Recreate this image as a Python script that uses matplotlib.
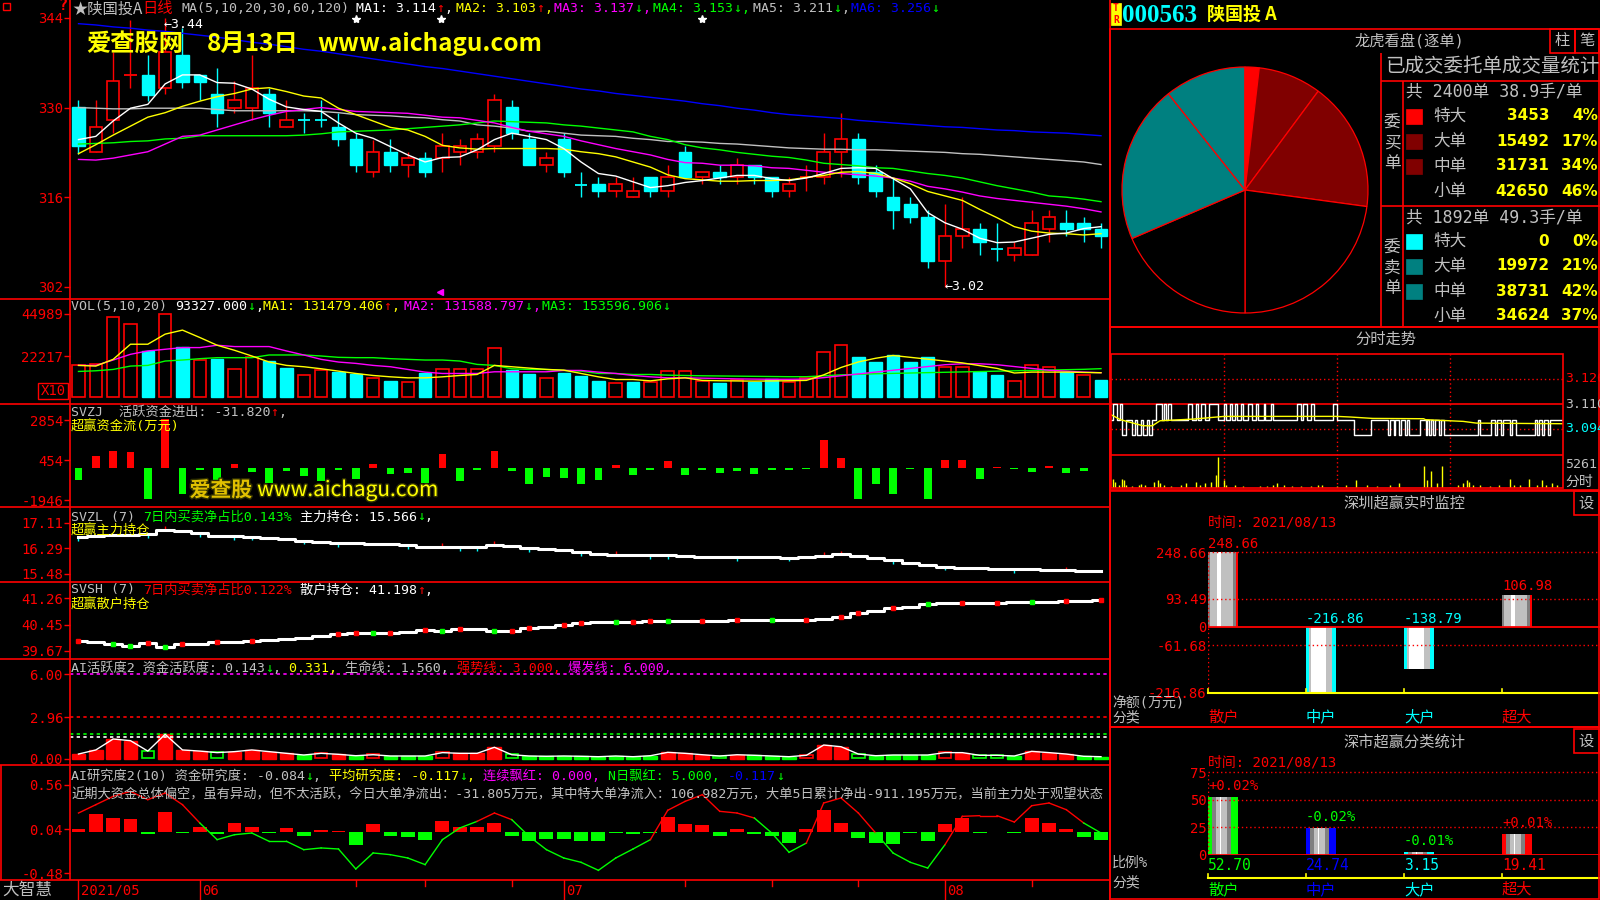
import numpy as np
import matplotlib
matplotlib.use("Agg")
import matplotlib.pyplot as plt
from matplotlib.patches import Rectangle
import matplotlib.patheffects as pe

plt.rcParams['font.family'] = ['DejaVu Sans Mono', 'Noto Sans CJK SC', 'DejaVu Sans']

RED = '#ff0000'
CYAN = '#00ffff'
GREEN = '#00ff00'
YEL = '#ffff00'
MAG = '#ff00ff'
GRAY = '#c0c0c0'
DGRAY = '#808080'
BLUE = '#0000ff'
WHITE = '#ffffff'
DKRED = '#800000'
TEAL = '#008080'
CJK = ['Noto Sans CJK SC', 'DejaVu Sans']

# ---------------- daily bars 2021-05-21 .. 2021-08-13 (60 sessions) ----------------
opens = [3.301, 3.231, 3.281, 3.351, 3.351, 3.331, 3.382, 3.351, 3.321, 3.300,
         3.300, 3.321, 3.270, 3.281, 3.281, 3.270, 3.251, 3.200, 3.231, 3.210,
         3.222, 3.222, 3.231, 3.231, 3.240, 3.301, 3.251, 3.210, 3.251, 3.180,
         3.180, 3.170, 3.161, 3.191, 3.170, 3.231, 3.191, 3.200, 3.191, 3.210,
         3.191, 3.170, 3.191, 3.191, 3.231, 3.251, 3.200, 3.161, 3.150, 3.129,
         3.060, 3.099, 3.110, 3.080, 3.069, 3.069, 3.110, 3.120, 3.120, 3.110]
highs = [3.312, 3.312, 3.387, 3.437, 3.382, 3.440, 3.424, 3.351, 3.362, 3.341,
         3.382, 3.331, 3.312, 3.291, 3.312, 3.291, 3.261, 3.250, 3.251, 3.231,
         3.231, 3.261, 3.251, 3.261, 3.321, 3.312, 3.261, 3.231, 3.261, 3.200,
         3.191, 3.191, 3.191, 3.191, 3.210, 3.240, 3.200, 3.210, 3.222, 3.210,
         3.191, 3.191, 3.210, 3.261, 3.291, 3.261, 3.210, 3.191, 3.161, 3.140,
         3.150, 3.161, 3.120, 3.120, 3.090, 3.140, 3.140, 3.140, 3.129, 3.120]
lows = [3.228, 3.231, 3.261, 3.331, 3.310, 3.321, 3.331, 3.312, 3.270, 3.291,
        3.280, 3.270, 3.270, 3.261, 3.270, 3.240, 3.200, 3.191, 3.200, 3.191,
        3.191, 3.200, 3.210, 3.222, 3.231, 3.251, 3.210, 3.200, 3.191, 3.161,
        3.161, 3.161, 3.161, 3.161, 3.161, 3.191, 3.180, 3.180, 3.180, 3.180,
        3.161, 3.161, 3.170, 3.180, 3.191, 3.180, 3.161, 3.110, 3.120, 3.049,
        3.020, 3.080, 3.069, 3.060, 3.060, 3.069, 3.090, 3.099, 3.090, 3.080]
closes = [3.240, 3.270, 3.341, 3.352, 3.320, 3.387, 3.340, 3.340, 3.291, 3.312,
          3.331, 3.291, 3.281, 3.280, 3.280, 3.251, 3.210, 3.231, 3.210, 3.222,
          3.200, 3.240, 3.240, 3.251, 3.312, 3.261, 3.210, 3.222, 3.200, 3.179,
          3.170, 3.180, 3.170, 3.170, 3.191, 3.191, 3.200, 3.191, 3.210, 3.191,
          3.170, 3.180, 3.191, 3.231, 3.251, 3.191, 3.170, 3.140, 3.129, 3.060,
          3.099, 3.110, 3.090, 3.079, 3.080, 3.120, 3.129, 3.110, 3.110, 3.099]

ma5 = [3.250, 3.255, 3.279, 3.299, 3.305, 3.337, 3.351, 3.351, 3.339, 3.338,
       3.329, 3.313, 3.301, 3.297, 3.294, 3.276, 3.260, 3.252, 3.239, 3.226,
       3.215, 3.222, 3.223, 3.234, 3.250, 3.260, 3.255, 3.250, 3.236, 3.215,
       3.197, 3.193, 3.184, 3.175, 3.178, 3.183, 3.186, 3.190, 3.194, 3.194,
       3.189, 3.186, 3.190, 3.197, 3.205, 3.206, 3.205, 3.189, 3.173, 3.136,
       3.120, 3.110, 3.096, 3.089, 3.090, 3.096, 3.102, 3.104, 3.111, 3.114]
ma10 = [3.228, 3.242, 3.257, 3.271, 3.285, 3.292, 3.302, 3.310, 3.317, 3.322,
        3.329, 3.331, 3.325, 3.318, 3.315, 3.299, 3.289, 3.279, 3.269, 3.265,
        3.255, 3.241, 3.237, 3.235, 3.236, 3.236, 3.236, 3.236, 3.235, 3.231,
        3.228, 3.223, 3.215, 3.207, 3.195, 3.189, 3.187, 3.185, 3.185, 3.186,
        3.186, 3.187, 3.191, 3.194, 3.199, 3.200, 3.197, 3.190, 3.181, 3.169,
        3.162, 3.155, 3.141, 3.128, 3.114, 3.107, 3.104, 3.103, 3.101, 3.103]
ma20 = [3.219, 3.218, 3.221, 3.226, 3.231, 3.243, 3.255, 3.257, 3.265, 3.273,
        3.281, 3.288, 3.294, 3.297, 3.300, 3.297, 3.294, 3.293, 3.292, 3.291,
        3.288, 3.285, 3.284, 3.280, 3.276, 3.269, 3.263, 3.259, 3.255, 3.248,
        3.242, 3.236, 3.231, 3.226, 3.219, 3.214, 3.213, 3.210, 3.210, 3.209,
        3.206, 3.205, 3.202, 3.199, 3.197, 3.195, 3.193, 3.190, 3.185, 3.177,
        3.173, 3.168, 3.162, 3.158, 3.155, 3.152, 3.149, 3.146, 3.142, 3.137]
ma30 = [3.243, 3.244, 3.245, 3.247, 3.248, 3.251, 3.252, 3.256, 3.256, 3.256,
        3.256, 3.256, 3.256, 3.257, 3.259, 3.262, 3.263, 3.264, 3.265, 3.267,
        3.269, 3.271, 3.273, 3.276, 3.279, 3.278, 3.277, 3.276, 3.273, 3.271,
        3.268, 3.265, 3.262, 3.255, 3.250, 3.242, 3.237, 3.234, 3.230, 3.227,
        3.224, 3.222, 3.218, 3.213, 3.211, 3.209, 3.206, 3.205, 3.201, 3.197,
        3.194, 3.190, 3.184, 3.178, 3.173, 3.168, 3.162, 3.160, 3.157, 3.153]
ma60 = [3.300, 3.299, 3.298, 3.298, 3.299, 3.299, 3.299, 3.299, 3.297, 3.295,
        3.295, 3.295, 3.295, 3.295, 3.294, 3.292, 3.289, 3.288, 3.287, 3.285,
        3.284, 3.281, 3.279, 3.273, 3.271, 3.268, 3.263, 3.263, 3.260, 3.257,
        3.256, 3.255, 3.252, 3.250, 3.247, 3.247, 3.246, 3.244, 3.243, 3.241,
        3.239, 3.237, 3.236, 3.235, 3.235, 3.234, 3.234, 3.233, 3.232, 3.231,
        3.230, 3.228, 3.227, 3.225, 3.223, 3.221, 3.219, 3.217, 3.215, 3.211]
ma120 = [3.431, 3.429, 3.426, 3.424, 3.421, 3.419, 3.416, 3.413, 3.410, 3.406,
         3.402, 3.399, 3.395, 3.391, 3.388, 3.384, 3.380, 3.376, 3.372, 3.368,
         3.364, 3.361, 3.357, 3.353, 3.349, 3.345, 3.341, 3.337, 3.333, 3.329,
         3.326, 3.322, 3.319, 3.316, 3.313, 3.310, 3.306, 3.303, 3.299, 3.296,
         3.292, 3.289, 3.287, 3.285, 3.283, 3.280, 3.278, 3.276, 3.274, 3.272,
         3.270, 3.269, 3.267, 3.265, 3.264, 3.262, 3.261, 3.260, 3.258, 3.256]

# volume in units of 10 lots (axis shows X10)
volume = [17127, 17673, 43181, 39537, 24961, 45003, 27330, 19860, 20406, 14940,
          21682, 19495, 15487, 11661, 14394, 13483, 12207, 10385, 8928, 8381,
          13118, 15305, 14940, 14940, 26783, 14394, 12207, 10385, 12754, 11296,
          8563, 7652, 8017, 8199, 13847, 13847, 8500, 7800, 9000, 8200,
          9500, 8000, 10500, 24420, 28305, 21645, 18870, 22755, 18870, 21645,
          16095, 16095, 13320, 11655, 8880, 17205, 16095, 13320, 11655, 9333]
vol_up = [1, 1, 1, 1, 0, 1, 0, 1, 0, 1, 1, 0, 0, 1, 1, 0, 0, 1, 0, 1,
          0, 1, 1, 1, 1, 0, 0, 1, 0, 0, 0, 1, 0, 1, 1, 1, 1, 0, 1, 0,
          0, 1, 1, 1, 1, 0, 0, 0, 0, 0, 1, 1, 0, 0, 1, 1, 1, 0, 1, 0]
vma5 = [17127, 16762, 20406, 28605, 28605, 34071, 36258, 32249, 28059, 25326,
        22228, 18949, 17127, 16398, 15305, 14029, 12754, 11661, 10932, 10385,
        10385, 10932, 11661, 12207, 17127, 16398, 15669, 14940, 14576, 12754,
        10932, 9474, 9474, 8746, 9839, 10385, 9000, 8800, 8700, 8600,
        8700, 8800, 9000, 12000, 16000, 19000, 21000, 22500, 21500, 20500,
        19500, 18500, 17000, 15500, 13000, 13500, 13500, 13500, 13300, 13148]
vma10 = [17127, 17127, 20042, 23139, 24961, 25872, 26783, 26783, 28059, 27330,
         27330, 27330, 24961, 22775, 20406, 18949, 18220, 17127, 16398, 14940,
         13483, 12754, 12754, 12754, 13665, 13665, 13665, 13665, 14394, 14394,
         13483, 12754, 11661, 10932, 10385, 10385, 10200, 10000, 9800, 9700,
         9600, 9600, 9700, 10500, 11500, 12500, 13500, 14500, 15500, 16500,
         17500, 18000, 18000, 17500, 16500, 15500, 14500, 14000, 13500, 13159]
vma20 = [13847, 14212, 14940, 16762, 17127, 19495, 20042, 20771, 21317, 21317,
         21317, 22775, 22775, 22775, 22228, 21500, 21317, 21317, 20771, 20406,
         20042, 20042, 19495, 17673, 17127, 15305, 14940, 14940, 14394, 14029,
         12754, 12754, 12207, 12207, 11843, 11661, 11500, 11400, 11300, 11200,
         11100, 11000, 11000, 11500, 12000, 12300, 12600, 12800, 13000, 13200,
         13400, 13600, 13800, 14000, 14200, 14400, 14600, 14800, 15000, 15360]

svzj = [-740, 680, 980, 920, -1860, 2900, -1560, -160, -840, 240,
        -240, -920, -200, -500, -780, -160, -680, 200, -360, -340,
        -920, 800, -780, -140, 980, -200, -1000, -560, -620, -1000,
        -740, 140, -440, -140, 380, -440, -150, -300, -200, -400,
        -150, -150, -100, 1660, 550, -1900, -980, -1600, -100, -1900,
        430, 430, -680, 50, -100, -250, 120, -300, -200, -32]
svzl = [16.65, 16.69, 16.73, 16.73, 16.75, 16.89, 16.84, 16.78, 16.69, 16.69,
        16.67, 16.62, 16.59, 16.54, 16.49, 16.45, 16.45, 16.43, 16.43, 16.40,
        16.34, 16.34, 16.32, 16.34, 16.40, 16.38, 16.31, 16.27, 16.24, 16.16,
        16.10, 16.09, 16.07, 16.07, 16.07, 16.04, 16.02, 16.01, 16.01, 16.00,
        16.00, 15.99, 16.00, 16.06, 16.10, 16.05, 15.98, 15.90, 15.83, 15.75,
        15.70, 15.67, 15.66, 15.64, 15.63, 15.62, 15.60, 15.58, 15.57, 15.57]
# small day markers on the SVZL line: c = cyan, r = red, . = none
svzl_mark = "c...cr.c.cc..c.c...c.rccr.c..c.r.cc...c..c.rr..c..c...c..r.."
svsh = [39.96, 39.95, 39.88, 39.81, 39.90, 39.80, 39.88, 39.88, 39.95, 39.95,
        39.96, 40.00, 40.04, 40.07, 40.12, 40.17, 40.22, 40.20, 40.22, 40.24,
        40.29, 40.26, 40.32, 40.33, 40.27, 40.27, 40.35, 40.40, 40.45, 40.52,
        40.53, 40.54, 40.55, 40.56, 40.56, 40.57, 40.58, 40.58, 40.59, 40.59,
        40.60, 40.60, 40.61, 40.62, 40.70, 40.80, 40.88, 40.95, 41.00, 41.08,
        41.12, 41.10, 41.12, 41.12, 41.13, 41.14, 41.15, 41.16, 41.18, 41.20]
# small day markers on the SVSH line: r = red, g = green, . = none
svsh_mark = "r.ggrgr.r.r....rrgr.rgr.grr.rr.grrg.r.r.g.r.rr.r.g.r.r.g.r.r"

act = [0.33, 0.62, 1.40, 1.28, 0.54, 1.73, 0.62, 0.54, 0.43, 0.50,
       0.62, 0.50, 0.38, 0.26, 0.38, 0.31, 0.21, 0.28, 0.19, 0.19,
       0.19, 0.43, 0.38, 0.38, 0.81, 0.28, 0.19, 0.17, 0.19, 0.17,
       0.14, 0.19, 0.14, 0.21, 0.45, 0.38, 0.28, 0.19, 0.28, 0.24,
       0.19, 0.14, 0.24, 0.97, 0.85, 0.33, 0.21, 0.26, 0.26, 0.26,
       0.43, 0.43, 0.24, 0.24, 0.19, 0.52, 0.43, 0.33, 0.17, 0.14]
# R/G filled, r/g hollow
act_kind = "RRRRgRRRgRRRRGrRGrGGGrRRRgGGGGGGGGRRRgRGGGrRRgGGGGrRggGRRRGG"

research = [0.045, 0.22, 0.17, 0.16, -0.02, 0.24, -0.01, 0.065, -0.02, 0.115,
            0.065, -0.01, 0.05, -0.04, 0.03, 0.015, -0.15, 0.10, -0.04, -0.05,
            -0.085, 0.13, 0.06, 0.06, 0.115, -0.04, -0.10, -0.075, -0.075, -0.10,
            -0.10, -0.005, -0.02, -0.01, 0.18, 0.10, 0.09, -0.04, 0.045, -0.02,
            -0.04, -0.12, 0.045, 0.26, 0.115, -0.065, -0.13, -0.135, -0.01, -0.10,
            0.10, 0.17, -0.01, 0.005, -0.01, 0.165, 0.105, 0.045, -0.05, -0.084]
research_line = [0.228, 0.326, 0.424, 0.483, 0.385, 0.463, 0.326, 0.111, -0.085, -0.027,
                 -0.007, -0.105, -0.105, -0.203, -0.183, -0.195, -0.430, -0.242, -0.262, -0.301,
                 -0.379, -0.085, 0.052, 0.130, 0.228, 0.150, -0.046, -0.203, -0.301, -0.352,
                 -0.446, -0.301, -0.195, -0.085, 0.260, 0.365, 0.444, 0.248, 0.228, 0.169,
                 -0.007, -0.234, -0.125, 0.346, 0.405, 0.228, -0.007, -0.242, -0.352, -0.419,
                 -0.144, 0.189, 0.197, 0.197, 0.122, 0.314, 0.346, 0.267, 0.111, -0.007]
research_line_col = "rrrrrrrrggggggggggggggggrrggggggggrrrrrrgggrrrrggggrrrrrrrrg"

month_idx = [0, 7, 28, 50]
month_lbl = ['2021/05', '06', '07', '08']
minor_idx = [16, 20, 25, 35, 40, 45, 55]

# ---------------- order book pie ----------------
size_names = ['特大', '大单', '中单', '小单']
buy_cnt = [3453, 15492, 31731, 42650]
buy_pct = ['4%', '17%', '34%', '46%']
sell_cnt = [0, 19972, 38731, 34624]
sell_pct = ['0%', '21%', '42%', '37%']

# ---------------- intraday 2021-08-13 ----------------
run_px = [3.10, 3.11, 3.10, 3.11, 3.09, 3.10, 3.09, 3.10, 3.09, 3.10,
          3.09, 3.10, 3.09, 3.10, 3.11, 3.10, 3.11, 3.10, 3.11, 3.10,
          3.11, 3.10, 3.11, 3.10, 3.11, 3.10, 3.11, 3.10, 3.11, 3.10,
          3.11, 3.10, 3.11, 3.10, 3.11, 3.10, 3.11, 3.10, 3.11, 3.10,
          3.11, 3.10, 3.11, 3.10, 3.11, 3.10, 3.11, 3.10, 3.11, 3.10,
          3.11,
          3.10, 3.09, 3.10, 3.09, 3.10, 3.09, 3.10, 3.09, 3.10, 3.09,
          3.10, 3.09, 3.10, 3.09, 3.10, 3.09, 3.10, 3.09, 3.10, 3.09,
          3.10, 3.09, 3.10, 3.09, 3.10, 3.09, 3.10, 3.09, 3.10, 3.09,
          3.10, 3.09, 3.10, 3.09, 3.10, 3.09, 3.10, 3.09, 3.10]
run_len = [1, 2, 2, 1, 2, 3, 2, 1, 2, 1, 2, 1, 2, 2, 3, 1, 1, 1, 2, 9,
           2, 2, 1, 2, 2, 2, 5, 3, 1, 2, 1, 2, 1, 2, 1, 3, 2, 2, 1, 3,
           1, 3, 1, 13, 2, 1, 2, 2, 2, 10, 2,
           9, 9, 9, 1, 2, 1, 2, 1, 2, 1, 1, 6, 3, 1, 1, 1, 1, 1, 2, 1,
           2, 18, 1, 6, 2, 1, 2, 1, 4, 1, 2, 10, 1, 1, 2, 1, 2, 1, 7]
avg_min = [0, 5, 17, 22, 26, 44, 60, 120, 127, 139, 166, 167, 187, 194, 240]
avg_px = [3.1032, 3.1000, 3.0961, 3.0961, 3.0993, 3.1004, 3.1021, 3.1021,
          3.1017, 3.1008, 3.1006, 3.1000, 3.0989, 3.0978, 3.0974]
tick_min = [1, 2, 4, 6, 7, 8, 11, 15, 16, 18, 23, 25, 26, 28, 32, 37, 40, 45, 47, 50,
            53, 56, 57, 60, 61, 66, 70, 79, 83, 86, 88, 92, 96, 101, 106, 110, 112, 120,
            125, 130, 136, 141, 148, 153, 166, 168, 170, 173, 176, 184, 187, 189, 190,
            192, 196, 201, 206, 212, 214, 217, 222, 226, 229, 231, 234, 237]
tick_vol = [1580, 1050, 530, 1580, 1320, 530, 260, 420, 630, 420, 1050, 1320, 790, 420,
            260, 530, 790, 1050, 530, 790, 1050, 2100, 5261, 1320, 530, 420, 260, 260, 260,
            530, 790, 420, 260, 260, 260, 420, 420, 260, 420, 1320, 420, 260, 530, 790,
            3680, 1320, 2890, 790, 3680, 530, 790, 1320, 1050, 530, 420, 260, 420, 1580,
            530, 530, 1580, 530, 1320, 530, 790, 530]

# ---------------- Shenzhen money flow ----------------
sz_cats = ['散户', '中户', '大户', '超大']
sz_net = [248.66, -216.86, -138.79, 106.98]
sz_ratio = [52.70, 24.74, 3.15, 19.41]
sz_ratio_chg = ['+0.02%', '-0.02%', '-0.01%', '+0.01%']

W, H = 1600, 900
fig = plt.figure(figsize=(16, 9), dpi=100, facecolor='black')
n = len(closes)
x = np.arange(n)
XL = (-0.49, 59.52)


def panel(x0, y0, x1, y1, xlim=None, ylim=None):
    ax = fig.add_axes([x0 / W, 1 - y1 / H, (x1 - x0) / W, (y1 - y0) / H])
    ax.set_facecolor('black')
    ax.set_axis_off()
    if xlim:
        ax.set_xlim(*xlim)
    if ylim:
        ax.set_ylim(*ylim)
    return ax


def yticks(ax, vals, labels, length=4, size=10):
    ax.set_axis_on()
    for s in ax.spines.values():
        s.set_visible(False)
    ax.set_xticks([])
    ax.set_yticks(vals)
    ax.set_yticklabels(labels)
    ax.tick_params(axis='y', colors=RED, labelsize=size, length=length, width=1, pad=1)


# ---------- price ----------
ax_p = panel(70, 0, 1110, 299, XL, (3.001, 3.468))
yticks(ax_p, [3.44, 3.30, 3.16, 3.02], ['344', '330', '316', '302'])
for i in range(n):
    o, h, l, c = opens[i], highs[i], lows[i], closes[i]
    col = RED if c >= o else CYAN
    ax_p.vlines(i, l, h, color=col, lw=1, zorder=2)
    lo, hi = min(o, c), max(o, c)
    if hi - lo < 0.002:
        ax_p.hlines((o + c) / 2, i - 0.36, i + 0.36, color=col, lw=1.3, zorder=3)
    elif c >= o:
        ax_p.add_patch(Rectangle((i - 0.36, lo), 0.72, hi - lo, facecolor='black',
                                 edgecolor=RED, lw=1.2, zorder=3))
    else:
        ax_p.add_patch(Rectangle((i - 0.36, lo), 0.72, hi - lo, facecolor=CYAN,
                                 edgecolor=CYAN, lw=1, zorder=3))
for series, col in ((ma120, BLUE), (ma60, GRAY), (ma30, GREEN), (ma20, MAG),
                    (ma10, YEL), (ma5, WHITE)):
    ax_p.plot(x, series, color=col, lw=1, zorder=4)
ax_p.text(5 - 0.1, 3.44, '←3.44', color=WHITE, fontsize=9.5, va='top', ha='left')
ax_p.text(50 - 0.05, 3.020, '←3.02', color=WHITE, fontsize=9.5, va='center', ha='left')

# ---------- volume ----------
ax_v = panel(70, 299, 1110, 404, XL, (-3794, 53116))
yticks(ax_v, [44989, 22217], ['44989', '22217'])
for i in range(n):
    if vol_up[i]:
        ax_v.add_patch(Rectangle((i - 0.36, 0), 0.72, volume[i], facecolor='black',
                                 edgecolor=RED, lw=1.2))
    else:
        ax_v.add_patch(Rectangle((i - 0.36, 0), 0.72, volume[i], facecolor=CYAN,
                                 edgecolor=CYAN, lw=1))
ax_v.plot(x, vma20, color=GREEN, lw=1, zorder=4)
ax_v.plot(x, vma10, color=MAG, lw=1, zorder=4)
ax_v.plot(x, vma5, color=YEL, lw=1, zorder=4)

# ---------- SVZJ ----------
ax_z = panel(70, 404, 1110, 507, XL, (-2366, 3814))
yticks(ax_z, [2854, 454, -1946], ['2854', '454', '-1946'])
ax_z.bar(x, svzj, width=0.45, color=[RED if v > 0 else GREEN for v in svzj])
ax_z.text(0.115, 0.165, '爱查股 ', transform=ax_z.transAxes, color='#e0c000', fontsize=15,
          family=CJK, fontweight='bold', va='center',
          path_effects=[pe.withStroke(linewidth=2, foreground='#303000')])
ax_z.text(0.18, 0.165, 'www.aichagu.com', transform=ax_z.transAxes, color=YEL, fontsize=15,
          family=CJK, va='center',
          path_effects=[pe.withStroke(linewidth=2, foreground='#303000')])

# ---------- SVZL ----------
ax_l = panel(70, 507, 1110, 582, XL, (15.206, 17.626))
yticks(ax_l, [17.11, 16.29, 15.48], ['17.11', '16.29', '15.48'])
for i, m in enumerate(svzl_mark):
    if m == 'c':
        ax_l.vlines(i, svzl[i] - 0.12, svzl[i], color=CYAN, lw=1)
    elif m == 'r':
        ax_l.vlines(i, svzl[i], svzl[i] + 0.12, color=RED, lw=1)
ax_l.plot(x, svzl, color=WHITE, lw=2.2, drawstyle='steps-mid')

# ---------- SVSH ----------
ax_s = panel(70, 582, 1110, 659, XL, (39.43, 41.74))
yticks(ax_s, [41.26, 40.45, 39.67], ['41.26', '40.45', '39.67'])
ax_s.plot(x, svsh, color=WHITE, lw=2.2, drawstyle='steps-mid')
for i, m in enumerate(svsh_mark):
    if m != '.':
        ax_s.plot(i, svsh[i], marker='s', ms=3, color=RED if m == 'r' else GREEN, zorder=5)

# ---------- AI activity ----------
ax_a = panel(70, 659, 1110, 765, XL, (-0.45, 7.09))
yticks(ax_a, [6.0, 2.96, 0.0], ['6.00', '2.96', '0.00'])
for lv, col in ((6.0, MAG), (2.96, RED), (1.73, GREEN), (1.52, WHITE)):
    ax_a.axhline(lv, color=col, lw=1.2, ls=(0, (2, 2)))
for i in range(n):
    k = act_kind[i]
    col = RED if k in 'Rr' else GREEN
    if k.isupper():
        ax_a.add_patch(Rectangle((i - 0.4, 0), 0.8, act[i], facecolor=col, edgecolor=col, lw=1))
    else:
        ax_a.add_patch(Rectangle((i - 0.36, 0.02), 0.72, act[i], facecolor='black',
                                 edgecolor=col, lw=1.2))
ax_a.plot(x, act, color=WHITE, lw=1, zorder=4)

# ---------- AI research ----------
ax_r = panel(70, 765, 1110, 880, XL, (-0.56, 0.793))
yticks(ax_r, [0.56, 0.04, -0.48], ['0.56', '0.04', '-0.48'])
ax_r.bar(x, research, width=0.8, color=[RED if v > 0 else GREEN for v in research])
for i in range(n - 1):
    col = RED if research_line_col[i + 1] == 'r' else GREEN
    ax_r.plot([i, i + 1], research_line[i:i + 2], color=col, lw=1)
ax_r.text(0.001, 0.74, '近期大资金总体偏空，虽有异动，但不太活跃，今日大单净流出：-31.805万元，'
          '其中特大单净流入：106.982万元，大单5日累计净出-911.195万元，当前主力处于观望状态',
          transform=ax_r.transAxes, color=GRAY, fontsize=9.5, va='center', clip_on=True)

# ---------- date row ----------
ax_d = panel(70, 880, 1110, 900, XL, (0, 1))
for idx, lbl in zip(month_idx, month_lbl):
    ax_d.axvline(idx, color=RED, lw=1)
    ax_d.text(idx + 0.12, 0.45, lbl, color=RED, fontsize=10, va='center')
for idx in minor_idx:
    ax_d.plot([idx, idx], [0.7, 1], color=RED, lw=1)

# ---------- pie ----------
ax_pie = panel(1120, 65, 1370, 315, (-1.0163, 1.0163), (-1.0163, 1.0163))
ax_pie.pie(buy_cnt + sell_cnt[::-1], startangle=90, counterclock=False,
           colors=[RED, DKRED, DKRED, 'black', 'black', TEAL, TEAL, CYAN],
           wedgeprops=dict(edgecolor=RED, linewidth=0.9))
ax_pie.set_xlim(-1.0163, 1.0163)
ax_pie.set_ylim(-1.0163, 1.0163)

# ---------- intraday ----------
mins = np.arange(sum(run_len) + 1)
px_min = np.repeat(run_px, run_len)
px_min = np.append(px_min, px_min[-1])
ax_m = panel(1111, 354, 1563, 455, (0, 240), (3.0774, 3.142))
ax_m.axhline(3.110, color=RED, lw=1.2)
for lv in (3.126, 3.094):
    ax_m.axhline(lv, color=RED, lw=1, ls=(0, (1, 2)))
for mv in (60, 120, 180):
    ax_m.axvline(mv, color=RED, lw=1, ls=(0, (1, 2)))
ax_m.plot(mins, px_min, color=WHITE, lw=1, drawstyle='steps-post')
ax_m.plot(avg_min, avg_px, color=YEL, lw=1)
ax_mv = panel(1111, 456, 1563, 488, (0, 240), (0, 5261 * 1.02))
for mv in (60, 120, 180):
    ax_mv.axvline(mv, color=RED, lw=1, ls=(0, (1, 2)))
ax_mv.vlines(tick_min, 0, tick_vol, color=YEL, lw=1)

# ---------- Shenzhen net flow ----------
pos_stripes = [(0.06, DGRAY), (0.25, GRAY), (0.14, WHITE), (0.38, GRAY), (0.10, DGRAY), (0.07, RED)]
neg_stripes = [(0.10, CYAN), (0.07, GRAY), (0.50, WHITE), (0.19, GRAY), (0.14, CYAN)]


def striped(ax, x0, w, y0, h, stripes):
    pos = x0
    for frac, col in stripes:
        ax.add_patch(Rectangle((pos, y0), w * frac, h, facecolor=col, edgecolor='none'))
        pos += w * frac


BW = 0.306
ax_n = panel(1208, 552, 1600, 692, (0, 4), (-216.86, 248.66))
yticks(ax_n, [248.66, 93.49, 0, -61.68, -216.86],
       ['248.66', '93.49', '0', '-61.68', '-216.86'], length=0, size=10)
for lv in (248.66, 93.49, -61.68):
    ax_n.axhline(lv, color=RED, lw=1, ls=(0, (1, 2)), clip_on=False)
ax_n.axvline(0, color=RED, lw=1, ls=(0, (1, 2)))
for i, v in enumerate(sz_net):
    if v > 0:
        striped(ax_n, i, BW, 0, v, pos_stripes)
        ax_n.text(i, v + 4, f'{v:.2f}', color=RED, fontsize=10, va='bottom')
    else:
        striped(ax_n, i, BW, v, -v, neg_stripes)
        ax_n.text(i, 4, f'{v:.2f}', color=CYAN, fontsize=10, va='bottom')
ax_n.axhline(0, color=RED, lw=1.3)
ax_n.plot([0, 4], [-220, -220], color=YEL, lw=1.5, clip_on=False)
cat_col = [RED, CYAN, CYAN, RED]
for i, c in enumerate(sz_cats):
    ax_n.plot([i, i], [-220, -208], color=YEL, lw=1.2, clip_on=False)
    ax_n.text(i, -300, c, color=cat_col[i], fontsize=11, va='center', family=CJK, clip_on=False)

# ---------- Shenzhen ratio ----------
ax_c = panel(1208, 772, 1600, 855, (0, 4), (0, 75))
yticks(ax_c, [75, 50, 25, 0], ['75', '50', '25', '0'], length=0, size=10)
for lv in (75, 50, 25):
    ax_c.axhline(lv, color=RED, lw=1, ls=(0, (1, 2)), clip_on=False)
ax_c.axvline(0, color=RED, lw=1, ls=(0, (1, 2)))
ratio_col = [GREEN, BLUE, CYAN, RED]
chg_col = [RED, GREEN, GREEN, RED]
for i, v in enumerate(sz_ratio):
    c = ratio_col[i]
    striped(ax_c, i, BW, 0, v, [(0.12, c), (0.14, DGRAY), (0.15, GRAY), (0.04, WHITE),
                                (0.20, GRAY), (0.12, DGRAY), (0.23, c)])
    ax_c.text(i, v + 3, sz_ratio_chg[i], color=chg_col[i], fontsize=10, va='bottom')
    ax_c.text(i, -3, f'{v:.2f}', color=c, fontsize=10.5, va='top', clip_on=False)
    ax_c.plot([i, i], [-20.5, -17], color=YEL, lw=1.2, clip_on=False)
    ax_c.text(i, -31, sz_cats[i], color=c, fontsize=11, va='center', family=CJK, clip_on=False)
ax_c.plot([0, 4], [-20.5, -20.5], color=YEL, lw=1.5, clip_on=False)
ax_c.axhline(0, color=RED, lw=1.3)

# ---------- overlay: frames and texts (pixel coords) ----------
ov = fig.add_axes([0, 0, 1, 1], zorder=10)
ov.set_xlim(0, W)
ov.set_ylim(H, 0)
ov.axis('off')
ov.patch.set_alpha(0)
renderer = fig.canvas.get_renderer()


def seg(x0, y0, x1, y1, c=RED, lw=1.2, ls='-'):
    ov.plot([x0, x1], [y0, y1], color=c, lw=lw, ls=ls, solid_capstyle='butt')


def box(x0, y0, x1, y1, c=RED, lw=1.2, fc='none'):
    ov.add_patch(Rectangle((x0, y0), x1 - x0, y1 - y0, edgecolor=c, facecolor=fc, lw=lw))


def t(xp, yp, s, c=GRAY, size=9.5, ha='left', **kw):
    return ov.text(xp, yp, s, color=c, fontsize=size, ha=ha, va='center', **kw)


def run(xp, yp, parts, size=9.5, **kw):
    for s, c in parts:
        tx = t(xp, yp, s, c, size, **kw)
        xp += tx.get_window_extent(renderer=renderer).width


# main frame
seg(70, 0, 70, 880)
for yy in (299, 404, 507, 582, 659, 765, 880):
    seg(0, yy, 1110, yy)
seg(1, 765, 1, 880)
seg(1110, 0, 1110, 900)

# header of price panel
box(3, 3, 10, 10, RED, 1)
t(58, 6, '?', RED, 11, fontweight='bold')
run(72, 9, [('★陕国投A', GRAY), ('日线', RED)], size=11, family=CJK)
t(182, 9, 'MA(5,10,20,30,60,120)', GRAY)
run(356, 9, [('MA1: 3.114', WHITE), ('↑', RED), (',', WHITE)])
run(456, 9, [('MA2: 3.103', YEL), ('↑', RED), (',', YEL)])
run(554, 9, [('MA3: 3.137', MAG), ('↓', GREEN), (',', MAG)])
run(653, 9, [('MA4: 3.153', GREEN), ('↓', GREEN), (',', GREEN)])
run(753, 9, [('MA5: 3.211', GRAY), ('↓', GREEN), (',', GRAY)])
run(851, 9, [('MA6: 3.256', BLUE), ('↓', GREEN)])
ov.plot([356, 441, 702], [19, 19, 19], ls='none', marker='*', color=WHITE, ms=6)
ov.plot([440], [292], marker='<', color=MAG, ms=5)
for s, xp in (('爱查股网', 86), ('8月13日', 207), ('www.aichagu.com', 317)):
    t(xp, 44, s, YEL, 17.5, family=CJK, fontweight='bold')

# sub-panel headers
run(71, 307, [('VOL(5,10,20) ', GRAY), ('93327.000', WHITE), ('↓', GREEN), (',', WHITE)])
run(263, 307, [('MA1: 131479.406', YEL), ('↑', RED), (',', YEL)])
run(404, 307, [('MA2: 131588.797', MAG), ('↓', GREEN), (',', MAG)])
run(542, 307, [('MA3: 153596.906', GREEN), ('↓', GREEN)])
box(38, 383, 68, 399, RED, 1)
t(53, 391, 'X10', RED, 10, ha='center')

run(71, 412, [('SVZJ  活跃资金进出: -31.820', GRAY), ('↑', RED), (',', GRAY)])
t(71, 427, '超赢资金流(万元)', YEL)
run(71, 517, [('SVZL (7) ', GRAY), ('7日内买卖净占比0.143%', GREEN),
              (' 主力持仓: 15.566', WHITE), ('↓', GREEN), (',', WHITE)])
t(71, 531, '超赢主力持仓', YEL)
run(71, 590, [('SVSH (7) ', GRAY), ('7日内买卖净占比0.122%', RED),
              (' 散户持仓: 41.198', WHITE), ('↑', RED), (',', WHITE)])
t(71, 605, '超赢散户持仓', YEL)
run(71, 668, [('AI活跃度2 资金活跃度: 0.143', GRAY), ('↓', GREEN), (', ', GRAY),
              ('0.331, ', YEL), ('生命线: 1.560, ', GRAY), ('强势线: 3.000, ', RED),
              ('爆发线: 6.000,', MAG)])
run(71, 776, [('AI研究度2(10) 资金研究度: -0.084', GRAY), ('↓', GREEN), (', ', GRAY),
              ('平均研究度: -0.117', YEL), ('↓', GREEN), (', ', YEL),
              ('连续飘红: 0.000, ', MAG), ('N日飘红: 5.000, ', GREEN),
              ('-0.117', BLUE), ('↓', GREEN)])
t(2, 890, '大智慧', GRAY, 12)

# right: title line
box(1111, 3, 1121, 25, YEL, 0.5, fc=YEL)
t(1116, 8, 'T', RED, 7, ha='center', fontweight='bold')
t(1116, 20, 'R', RED, 7, ha='center', fontweight='bold')
t(1122, 15, '000563', CYAN, 18, family=['Liberation Serif', 'DejaVu Serif'], fontweight='bold')
t(1207, 14, '陕国投 A', YEL, 13, family=CJK, fontweight='bold')

# right: order book
box(1110, 29, 1599, 327)
t(1355, 41, '龙虎看盘(逐单)', GRAY, 11)
box(1550, 29, 1575, 53)
box(1575, 29, 1599, 53)
t(1562, 41, '柱', GRAY, 11, ha='center')
t(1587, 41, '笔', GRAY, 11, ha='center')
seg(1381, 53, 1381, 327)
seg(1403, 81, 1403, 327)
seg(1381, 81, 1600, 81)
seg(1381, 206, 1600, 206)
t(1385, 66, '已成交委托单成交量统计', GRAY, 14)
t(1406, 92, '共 2400单 38.9手/单', GRAY, 12)
t(1406, 217, '共 1892单 49.3手/单', GRAY, 12)
for k, ch in enumerate('委买单'):
    t(1392, 123 + 20 * k, ch, GRAY, 12, ha='center')
for k, ch in enumerate('委卖单'):
    t(1392, 248 + 20 * k, ch, GRAY, 12, ha='center')
buy_sq = [RED, DKRED, DKRED, None]
sell_sq = [CYAN, TEAL, TEAL, None]
for k in range(4):
    for base, cnt, pct, sq in ((116, buy_cnt, buy_pct, buy_sq), (241, sell_cnt, sell_pct, sell_sq)):
        yy = base + 25 * k
        if sq[k]:
            box(1406, yy - 7, 1422, yy + 8, sq[k], 0.5, fc=sq[k])
        t(1433, yy, size_names[k], GRAY, 12)
        t(1549, yy, str(cnt[k]), YEL, 11, ha='right', family=['DejaVu Sans'], fontweight='bold')
        t(1598, yy, pct[k], YEL, 11, ha='right', family=['DejaVu Sans'], fontweight='bold')

# right: intraday
box(1110, 327, 1599, 490)
t(1355, 339, '分时走势', GRAY, 11)
box(1111, 354, 1563, 488)
seg(1111, 455, 1563, 455)
t(1565, 379, '3.126', RED, 9.5)
t(1565, 404, '3.110', GRAY, 9.5)
t(1565, 429, '3.094', CYAN, 9.5)
t(1565, 465, '5261', GRAY, 9.5)
t(1565, 482, '分时', GRAY, 10)

# right: money flow
box(1110, 491, 1599, 727)
t(1343, 503, '深圳超赢实时监控', GRAY, 11)
box(1574, 491, 1599, 515)
t(1586, 503, '设', GRAY, 11, ha='center')
t(1208, 523, '时间: 2021/08/13', RED, 10)
t(1112, 702, '净额(万元)', GRAY, 10)
t(1112, 717, '分类', GRAY, 10)

box(1110, 727, 1599, 899)
t(1343, 742, '深市超赢分类统计', GRAY, 11)
box(1574, 729, 1599, 753)
t(1586, 741, '设', GRAY, 11, ha='center')
t(1208, 762, '时间: 2021/08/13', RED, 10)
t(1112, 863, '比例%', GRAY, 10)
t(1112, 882, '分类', GRAY, 10)

fig.savefig('out.png', dpi=100, facecolor='black')
